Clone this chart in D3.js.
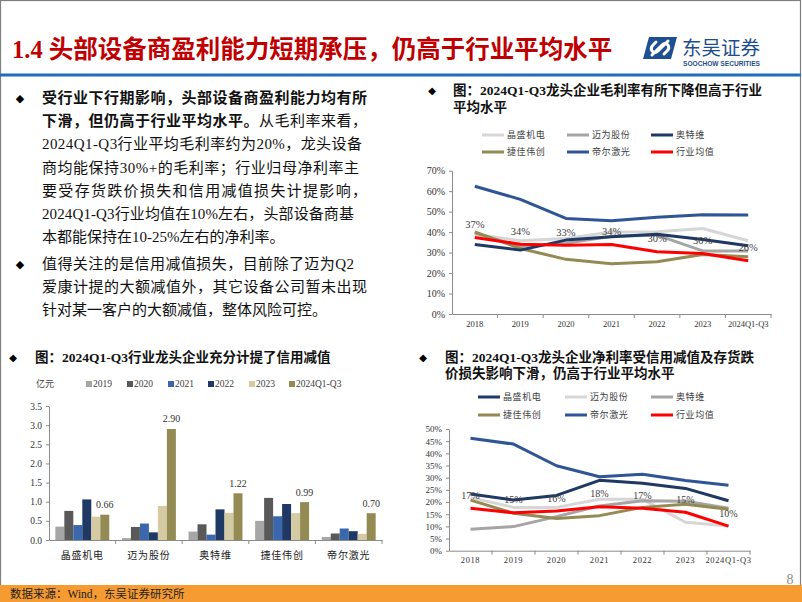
<!DOCTYPE html>
<html><head><meta charset="utf-8">
<script src="https://cdn.jsdelivr.net/npm/d3@7"></script>
<style>
html,body{margin:0;padding:0;background:#fff;}
svg{display:block;}
text{font-family:"Liberation Serif","Noto Sans CJK SC",serif;}
</style></head><body>
<svg id="c" width="802" height="602"></svg>
<script>
// ---------------- DATA ----------------
const years = ["2018","2019","2020","2021","2022","2023","2024Q1-Q3"];

// Gross margin (%) – top right chart
const grossJingSheng = [39, 35.8, 36.9, 40.1, 40.2, 41.8, 35.8];
const grossMaiWei    = [39.5, 33, 34.5, 38, 38.5, 30.8, 30.8];
const grossAoTeWei   = [34, 31.2, 36.1, 37.7, 39, 36.4, 33.3];
const grossJieJia    = [40.1, 32, 26.7, 24.5, 25.5, 29.1, 28];
const grossDiEr      = [62.4, 56, 46.7, 45.5, 47.3, 48.5, 48.4];
const grossAvg       = [37.4, 34.1, 33.6, 34, 30.4, 29.6, 26];
const grossLabels    = ["37%","34%","33%","34%","30%","30%","26%"];
const grossTicks     = [0,10,20,30,40,50,60,70];

// Net margin (%) – bottom right chart
const netJingSheng = [23.3, 20.8, 22.7, 28.9, 27.7, 25.6, 20.5];
const netMaiWei    = [21.8, 17.8, 17.8, 21.1, 21.1, 11.7, 10.1];
const netAoTeWei   = [8.8, 9.9, 14, 18.4, 20.5, 20.3, 17.4];
const netJieJia    = [20.8, 15.4, 13.2, 14.4, 17.8, 19.1, 17];
const netDiEr      = [46.2, 43.8, 34.9, 30.4, 31.4, 28.8, 26.9];
const netAvg       = [17.4, 15.6, 16.3, 18.1, 17.4, 15.8, 10.1];
const netLabels    = ["17%","15%","16%","18%","17%","15%","10%"];
const netTicks     = [0,5,10,15,20,25,30,35,40,45,50];

// Credit impairment (亿元) – bottom left chart
const companies   = ["晶盛机电","迈为股份","奥特维","捷佳伟创","帝尔激光"];
const creditYears = ["2019","2020","2021","2022","2023","2024Q1-Q3"];
const credit2019 = [0.35, 0.05, 0.22, 0.50, 0.08];
const credit2020 = [0.76, 0.34, 0.41, 1.10, 0.17];
const credit2021 = [0.39, 0.43, 0.14, 0.62, 0.30];
const credit2022 = [1.06, 0.20, 0.80, 0.94, 0.23];
const credit2023 = [0.61, 0.89, 0.71, 0.70, 0.16];
const credit2024 = [0.66, 2.90, 1.22, 0.99, 0.70];
const creditLabels = ["0.66","2.90","1.22","0.99","0.70"];
const creditTicks = [0,0.5,1,1.5,2,2.5,3,3.5];

// ---------------- DRAW ----------------
const svg = d3.select("#c");
const CJK = '"Liberation Serif","Noto Sans CJK SC",serif';

// frame
svg.append("rect").attr("x",0.5).attr("y",0.5).attr("width",800).attr("height",601)
  .attr("fill","#fff").attr("stroke","#7f7f7f").attr("stroke-width",1.2);

// header
svg.append("text").attr("x",12).attr("y",49).attr("dominant-baseline","central")
  .attr("font-size",24.5).attr("font-weight",700).attr("fill","#c00000")
  .text("1.4 头部设备商盈利能力短期承压，仍高于行业平均水平");
svg.append("rect").attr("x",0).attr("y",73.5).attr("width",801).attr("height",3).attr("fill","#1e6dbf");

// logo
const logo = svg.append("g");
logo.append("path").attr("d","M649,37 L677,37 L671,59 L643,59 Z").attr("fill","#1d4f91");
logo.append("path").attr("d","M652,55 L662,45 Q665,42 668,45 Q670,48 667,51 L664,54")
  .attr("fill","none").attr("stroke","#fff").attr("stroke-width",3).attr("stroke-linecap","round");
logo.append("path").attr("d","M668,41 L658,51 Q655,54 652,51 Q650,48 653,45 L656,42")
  .attr("fill","none").attr("stroke","#fff").attr("stroke-width",3).attr("stroke-linecap","round");
logo.append("text").attr("x",682).attr("y",55).attr("font-size",19.5).attr("fill","#1f4e8c")
  .style("font-family",'"Noto Sans CJK SC",sans-serif').text("东吴证券");
logo.append("text").attr("x",683).attr("y",65.5).attr("font-size",6.6).attr("font-weight",700).attr("fill","#1f4e8c")
  .style("font-family","Arial,'Liberation Sans',sans-serif").text("SOOCHOW SECURITIES");

// body text
const bodyLines = [
  [["受行业下行期影响，头部设备商盈利能力均有所",1]],
  [["下滑，但仍高于行业平均水平。",1],["从毛利率来看，",0]],
  [["2024Q1-Q3行业平均毛利率约为20%，龙头设备",0]],
  [["商均能保持30%+的毛利率；行业归母净利率主",0]],
  [["要受存货跌价损失和信用减值损失计提影响，",0]],
  [["2024Q1-Q3行业均值在10%左右，头部设备商基",0]],
  [["本都能保持在10-25%左右的净利率。",0]],
  [["值得关注的是信用减值损失，目前除了迈为Q2",0]],
  [["爱康计提的大额减值外，其它设备公司暂未出现",0]],
  [["针对某一客户的大额减值，整体风险可控。",0]]
];
const bodyY = [98,121,144,168,191,214,237,264,287,310];
const bodyEnd = [367,367,362,359,367,354,null,354,367,null];
bodyLines.forEach((segs,i)=>{
  const t = svg.append("text").attr("x",42).attr("y",bodyY[i]).attr("dominant-baseline","central")
    .attr("font-size",15).attr("fill","#111");
  segs.forEach(s=>t.append("tspan").attr("font-weight",s[1]?700:400).text(s[0]));
  if(bodyEnd[i]){
    const n = segs.map(s=>s[0]).join("").length;
    const w = t.node().getComputedTextLength();
    const ls = (bodyEnd[i]-42-w)/(n-1);
    t.attr("letter-spacing",ls);
  }
});
[98,264].forEach(y=>svg.append("text").attr("x",20).attr("y",y).attr("dominant-baseline","central")
  .attr("font-size",11).attr("text-anchor","middle").style("font-family","'DejaVu Sans'").text("◆"));

// chart titles
function chartTitle(xd, xt, ys, lines){
  svg.append("text").attr("x",xd).attr("y",ys[0]).attr("dominant-baseline","central")
    .attr("font-size",10).attr("text-anchor","middle").style("font-family","'DejaVu Sans'").text("◆");
  lines.forEach((l,i)=>svg.append("text").attr("x",xt).attr("y",ys[i]).attr("dominant-baseline","central")
    .attr("font-size",13.5).attr("font-weight",700).attr("fill","#111").text(l));
}
chartTitle(432,453,[90,107],["图：2024Q1-Q3龙头企业毛利率有所下降但高于行业","平均水平"]);
chartTitle(13,35,[357],["图：2024Q1-Q3行业龙头企业充分计提了信用减值"]);
chartTitle(423,445,[357,373],["图：2024Q1-Q3龙头企业净利率受信用减值及存货跌","价损失影响下滑，仍高于行业平均水平"]);

const C = {lgray:"#d6d6d6", gray:"#a5a5a5", navy:"#1f3864", olive:"#948a54", blue:"#2f5597", red:"#ff0000"};
const AX = "#8c8c8c";

function lineChart(cfg){
  const g = svg.append("g");
  const xb = d3.scaleBand().domain(years).range([cfg.x0,cfg.x1]);
  const xc = d=>xb(d)+xb.bandwidth()/2;
  const y = d3.scaleLinear().domain([0,cfg.max]).range([cfg.y0,cfg.y1]);
  const ya = g.append("g").attr("transform",`translate(${cfg.x0},0)`)
    .call(d3.axisLeft(y).tickValues(cfg.ticks).tickFormat(d=>d+"%").tickSize(3).tickSizeOuter(0).tickPadding(4));
  ya.selectAll("text").attr("font-size",cfg.yFont).attr("fill","#333").style("font-family",CJK);
  ya.selectAll("path,line").attr("stroke",AX);
  const xa = g.append("g").attr("transform",`translate(0,${cfg.y0})`)
    .call(d3.axisBottom(xb).tickSize(0).tickPadding(cfg.xPad).tickSizeOuter(0));
  xa.selectAll("text").attr("font-size",cfg.xFont).attr("fill","#333").attr("letter-spacing",cfg.xLs||0).style("font-family",CJK);
  xa.select("path").attr("stroke",AX);
  years.forEach((d,i)=>{ if(i>0) g.append("line").attr("x1",xb(d)).attr("x2",xb(d)).attr("y1",cfg.y0).attr("y2",cfg.y0+4).attr("stroke",AX); });
  g.append("line").attr("x1",cfg.x1).attr("x2",cfg.x1).attr("y1",cfg.y0).attr("y2",cfg.y0+4).attr("stroke",AX);
  const line = d3.line().x((v,i)=>xc(years[i])).y(v=>y(v));
  cfg.series.forEach(s=>g.append("path").attr("d",line(s.values)).attr("fill","none")
    .attr("stroke",s.color).attr("stroke-width",3).attr("stroke-linejoin","round"));
  cfg.labels.forEach((l,i)=>g.append("text").attr("x",xc(years[i])).attr("y",y(cfg.labelValues[i])-13)
    .attr("dominant-baseline","central").attr("text-anchor","middle").attr("font-size",cfg.labelFont)
    .attr("fill","#404040").text(l));
  // legend
  cfg.legend.forEach((s,i)=>{
    const lx = cfg.legCols[i%3], ly = cfg.legRows[Math.floor(i/3)];
    g.append("line").attr("x1",lx).attr("x2",lx+22).attr("y1",ly).attr("y2",ly).attr("stroke",s.color).attr("stroke-width",3);
    g.append("text").attr("x",lx+25).attr("y",ly).attr("dominant-baseline","central").attr("font-size",9)
      .attr("letter-spacing",0.6).attr("fill","#404040").text(s.name);
  });
}

// top-right gross margin
const gS = {
  js:{name:"晶盛机电",values:grossJingSheng,color:C.lgray},
  mw:{name:"迈为股份",values:grossMaiWei,color:C.gray},
  atw:{name:"奥特维",values:grossAoTeWei,color:C.navy},
  jj:{name:"捷佳伟创",values:grossJieJia,color:C.olive},
  de:{name:"帝尔激光",values:grossDiEr,color:C.blue},
  avg:{name:"行业均值",values:grossAvg,color:C.red}
};
lineChart({x0:452,x1:771,y0:314,y1:170.7,max:70,ticks:grossTicks,yFont:10,xFont:8.5,xPad:7,
  series:[gS.js,gS.mw,gS.jj,gS.atw,gS.de,gS.avg],
  labels:grossLabels,labelValues:grossAvg,labelFont:10.5,
  legend:[gS.js,gS.mw,gS.atw,gS.jj,gS.de,gS.avg],legCols:[482,567,651],legRows:[135,152]});

// bottom-right net margin
const nS = {
  js:{name:"晶盛机电",values:netJingSheng,color:C.navy},
  mw:{name:"迈为股份",values:netMaiWei,color:C.lgray},
  atw:{name:"奥特维",values:netAoTeWei,color:C.gray},
  jj:{name:"捷佳伟创",values:netJieJia,color:C.olive},
  de:{name:"帝尔激光",values:netDiEr,color:C.blue},
  avg:{name:"行业均值",values:netAvg,color:C.red}
};
lineChart({x0:449,x1:750,y0:550.7,y1:429,max:50,ticks:netTicks,yFont:9,xFont:8.5,xLs:0.6,xPad:6,
  series:[nS.mw,nS.atw,nS.jj,nS.js,nS.de,nS.avg],
  labels:netLabels,labelValues:netAvg,labelFont:10,
  legend:[nS.js,nS.mw,nS.atw,nS.jj,nS.de,nS.avg],legCols:[478,565,651],legRows:[397,415]});

// bottom-left bar chart
(function(){
  const g = svg.append("g");
  const series = [credit2019,credit2020,credit2021,credit2022,credit2023,credit2024];
  const colors = ["#a6a6a6","#595959","#3b67ad","#1f3864","#d4cba3","#948a54"];
  const x = d3.scaleBand().domain(companies).range([49,382]).paddingInner(0.19).paddingOuter(0.095);
  const xi = d3.scaleBand().domain(creditYears).range([0,x.bandwidth()]);
  const y = d3.scaleLinear().domain([0,3.5]).range([540,406]);
  companies.forEach((c,ci)=>{
    creditYears.forEach((yr,k)=>{
      const v = series[k][ci];
      g.append("rect").attr("x",x(c)+xi(yr)).attr("y",y(v)).attr("width",xi.bandwidth()).attr("height",y(0)-y(v)).attr("fill",colors[k]);
    });
    g.append("text").attr("x",x(c)+xi("2024Q1-Q3")+xi.bandwidth()/2).attr("y",y(credit2024[ci])-10)
      .attr("dominant-baseline","central").attr("text-anchor","middle").attr("font-size",10).attr("fill","#333").text(creditLabels[ci]);
  });
  const ya = g.append("g").attr("transform","translate(49,0)")
    .call(d3.axisLeft(y).tickValues(creditTicks).tickSize(3).tickSizeOuter(0).tickPadding(4));
  ya.selectAll("text").attr("font-size",9.5).attr("fill","#333").style("font-family",CJK);
  ya.selectAll("path,line").attr("stroke",AX);
  const xa = g.append("g").attr("transform","translate(0,540)")
    .call(d3.axisBottom(x).tickSize(0).tickPadding(12).tickSizeOuter(0));
  xa.selectAll("text").attr("font-size",10).attr("letter-spacing",0.8).attr("fill","#222").style("font-family",CJK);
  xa.select("path").attr("stroke",AX);
  const step = x.step();
  for(let i=1;i<=5;i++){ const xx = 49 + i*step; g.append("line").attr("x1",xx).attr("x2",xx).attr("y1",540).attr("y2",544).attr("stroke",AX); }
  // unit + legend
  g.append("text").attr("x",36).attr("y",384).attr("dominant-baseline","central").attr("font-size",9).attr("fill","#404040").text("亿元");
  const legX = [86,127,168,208,249,289];
  creditYears.forEach((yr,k)=>{
    g.append("rect").attr("x",legX[k]).attr("y",381).attr("width",6).attr("height",6).attr("fill",colors[k]);
    g.append("text").attr("x",legX[k]+7).attr("y",384).attr("dominant-baseline","central").attr("font-size",9.5).attr("fill","#404040").text(yr);
  });
})();

// footer
svg.append("rect").attr("x",0).attr("y",585).attr("width",802).attr("height",17).attr("fill","#f69b31");
svg.append("text").attr("x",10).attr("y",594).attr("dominant-baseline","central").attr("font-size",11.5).attr("fill","#222")
  .text("数据来源：Wind，东吴证券研究所");
svg.append("text").attr("x",790).attr("y",579).attr("dominant-baseline","central").attr("text-anchor","middle")
  .attr("font-size",14).attr("fill","#8c8c8c").text("8");
</script>
</body></html>
